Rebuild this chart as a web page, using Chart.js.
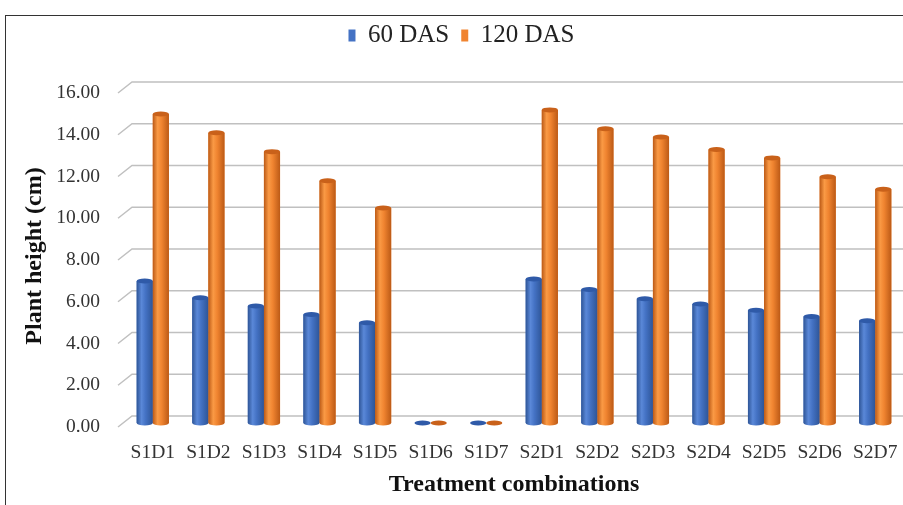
<!DOCTYPE html>
<html>
<head>
<meta charset="utf-8">
<script src="https://cdn.jsdelivr.net/npm/chart.js@4"></script>
<style>
  html, body { margin: 0; padding: 0; background: #fff; }
  #wrap { position: relative; width: 903px; height: 505px; overflow: hidden; }
  #frame { position: absolute; left: 5px; top: 15px; width: 920px; height: 520px; border: 1.5px solid #333; }
  #chart { position: absolute; left: 0; top: 0; }
</style>
</head>
<body>
<div id="wrap">
  <div id="frame"></div>
  <canvas id="chart" width="903" height="505"></canvas>
</div>
<script>
// data
const categories = ['S1D1', 'S1D2', 'S1D3', 'S1D4', 'S1D5', 'S1D6', 'S1D7',
                    'S2D1', 'S2D2', 'S2D3', 'S2D4', 'S2D5', 'S2D6', 'S2D7']
const das60 = [6.8, 6.0, 5.6, 5.2, 4.8, 0, 0, 6.9, 6.4, 5.95, 5.7, 5.4, 5.1, 4.9]
const das120 = [14.8, 13.9, 13.0, 11.6, 10.3, 0, 0, 15.0, 14.1, 13.7, 13.1, 12.7, 11.8, 11.2]
const yMin = 0
const yMax = 16
const yStep = 2

const BLUE = '#4472C4'
const ORANGE = '#F08430'
const shades = {
    [BLUE]: { dark: '#2E5597', light: '#5A88D8', top: '#2F5AA8' },
    [ORANGE]: { dark: '#BC5A16', light: '#FA9A45', top: '#C9611A' }
}

// extra room under the legend
const legendGap = {
    id: 'legendGap',
    beforeInit(chart) {
        const fit = chart.legend.fit
        chart.legend.fit = function() {
            fit.bind(chart.legend)()
            this.height += 31
        }
    }
}

// 3D look: back wall grid with a slanted side wall, cylinder bars
const cylinders = {
    id: 'cylinders',
    beforeDatasetsDraw(chart) {
        const ctx = chart.ctx
        const y = chart.scales.y
        const left = chart.chartArea.left
        ctx.save()
        ctx.strokeStyle = '#c0c0c0'
        ctx.lineWidth = 1.5
        y.ticks.forEach(t => {
            const py = y.getPixelForValue(t.value)
            ctx.beginPath()
            ctx.moveTo(left - 7, py + 4)
            ctx.lineTo(left + 7, py - 7)
            ctx.lineTo(chart.width, py - 7)
            ctx.stroke()
        })
        ctx.restore()
    },
    afterDatasetsDraw(chart) {
        const ctx = chart.ctx
        chart.data.datasets.forEach((ds, i) => {
            const meta = chart.getDatasetMeta(i)
            const s = shades[ds.backgroundColor]
            meta.data.forEach(el => {
                const w = el.width
                const x0 = el.x - w / 2
                const top = el.y
                const base = el.base
                ctx.save()
                if (base - top > 1) {
                    const g = ctx.createLinearGradient(x0, 0, x0 + w, 0)
                    g.addColorStop(0, s.dark)
                    g.addColorStop(0.3, s.light)
                    g.addColorStop(0.55, ds.backgroundColor)
                    g.addColorStop(1, s.dark)
                    ctx.fillStyle = g
                    ctx.fillRect(x0, top, w, base - top)
                    ctx.beginPath()
                    ctx.ellipse(el.x, base, w / 2, 2.5, 0, 0, Math.PI)
                    ctx.fill()
                }
                ctx.beginPath()
                ctx.ellipse(el.x, top, w / 2, 2.5, 0, 0, Math.PI * 2)
                ctx.fillStyle = s.top
                ctx.fill()
                ctx.restore()
            })
        })
    }
}

const ctx = document.getElementById('chart').getContext('2d')
new Chart(ctx, {
    type: 'bar',
    data: {
        labels: categories,
        datasets: [{
            label: '60 DAS',
            data: das60,
            backgroundColor: BLUE
        }, {
            label: '120 DAS',
            data: das120,
            backgroundColor: ORANGE
        }]
    },
    options: {
        responsive: false,
        animation: false,
        layout: { padding: { top: 11, right: 0, left: 20, bottom: 6 } },
        datasets: {
            bar: { barPercentage: 1.0, categoryPercentage: 0.58 }
        },
        plugins: {
            tooltip: { enabled: false },
            legend: {
                display: true,
                position: 'top',
                labels: {
                    color: '#222',
                    boxWidth: 7,
                    boxHeight: 12,
                    padding: 12,
                    font: { family: 'Liberation Serif', size: 25 }
                }
            }
        },
        scales: {
            x: {
                afterFit: function(scale) {
                    scale.height = 76
                    scale.paddingLeft = 0
                    scale.paddingRight = 0
                },
                grid: { display: false, drawTicks: false },
                border: { display: false },
                ticks: {
                    color: '#333',
                    padding: 18,
                    maxRotation: 0,
                    autoSkip: false,
                    font: { family: 'Liberation Serif', size: 19.5 }
                },
                title: {
                    display: true,
                    text: 'Treatment combinations',
                    color: '#111',
                    padding: { top: 0, bottom: 0 },
                    font: { family: 'Liberation Serif', size: 24, weight: 'bold' }
                }
            },
            y: {
                min: yMin,
                max: yMax,
                afterFit: function(scale) { scale.width = 105 },
                grid: { display: false, drawTicks: false },
                border: { display: false },
                ticks: {
                    stepSize: yStep,
                    color: '#333',
                    padding: 25,
                    labelOffset: 4,
                    font: { family: 'Liberation Serif', size: 19.5 },
                    callback: function(value) {
                        return value.toFixed(2)
                    }
                },
                title: {
                    display: true,
                    text: 'Plant height (cm)',
                    color: '#111',
                    padding: { top: 0, bottom: 0 },
                    font: { family: 'Liberation Serif', size: 24, weight: 'bold' }
                }
            }
        }
    },
    plugins: [legendGap, cylinders]
})
</script>
</body>
</html>
